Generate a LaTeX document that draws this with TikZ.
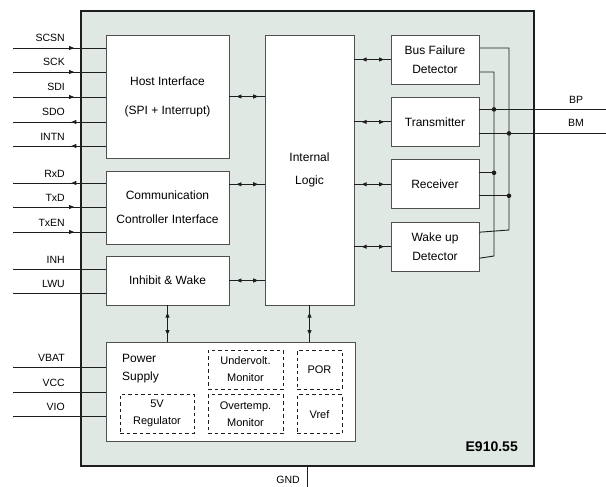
\documentclass[tikz,border=0pt]{standalone}
\usepackage{fontspec}
\setmainfont{Liberation Sans}
\usepackage{xcolor}
\usepackage{tikz}
\usetikzlibrary{positioning,arrows.meta,decorations.markings}
\definecolor{ChipFill}{RGB}{224, 232, 228}
\definecolor{Edge}{RGB}{80, 80, 80}
\definecolor{Ink}{RGB}{30, 30, 30}

\begin{document}
\begin{tikzpicture}[x=1pt, y=-1pt,
    chip/.style={rectangle, draw=Ink, fill=ChipFill, line width=1.3pt,
                 minimum width=453pt, minimum height=455pt},
    block/.style={rectangle, draw=Edge, fill=white, line width=0.9pt, inner sep=0pt,
                  align=center, font=\fontsize{12}{19}\selectfont},
    part/.style={rectangle, draw=Ink, fill=white, line width=0.8pt, dash pattern=on 3.5pt off 3pt,
                 inner sep=0pt, align=center, font=\fontsize{11}{17}\selectfont},
    wire/.style={draw=Ink, line width=0.9pt},
    pinin/.style={wire, postaction={decorate},
                  decoration={markings, mark=at position 0.66 with {\arrow{>}}}},
    pinout/.style={wire, postaction={decorate},
                   decoration={markings, mark=at position 0.63 with {\arrowreversed{>}}}},
    link/.style={wire, postaction={decorate},
                 decoration={markings, mark=at position 0.2 with {\arrowreversed{>}},
                             mark=at position 0.82 with {\arrow{>}}}},
    pinlabel/.style={anchor=base east, font=\fontsize{10.5}{12}\selectfont, inner sep=0pt},
    >={Triangle[length=5pt, width=4pt]},
    node distance=12.5pt,
]
\useasboundingbox (0,0) rectangle (606,487);

% package outline
\node[chip] (chip) at (307.5,238.5) {};

% function blocks
\node[block, minimum width=123pt, minimum height=123pt] (host) at (167.5,96.5) {Host Interface\\[10pt](SPI + Interrupt)};
\node[block, minimum width=123pt, minimum height=73pt] (ccif) at (167.5,207.5) {Communication\\[5pt]Controller Interface};
\node[block, minimum width=123pt, minimum height=49pt] (inhw) at (167.5,280.5) {Inhibit \& Wake};
\node[block, minimum width=89pt, minimum height=270pt] (logic) at (309.5,170) {Internal\\[4pt]Logic};

\node[block, minimum width=88pt, minimum height=49pt] (bfd) at (435,59.5) {Bus Failure\\Detector};
\node[block, minimum width=88pt, minimum height=49pt, below=of bfd] (tx) {Transmitter};
\node[block, minimum width=88pt, minimum height=49pt, below=of tx] (rx) {Receiver};
\node[block, minimum width=88pt, minimum height=49pt, below=of rx] (wud) {Wake up\\Detector};

% power supply
\node[block, minimum width=249pt, minimum height=99pt] (power) at (230.5,391.5) {};
\node[anchor=west, align=left, inner sep=0pt, font=\fontsize{12}{18}\selectfont] (pslabel) at (122,369) {Power\\Supply};
\node[part, minimum width=74pt, minimum height=39pt] (reg) at (157,413.5) {5V\\Regulator};
\node[part, minimum width=75pt, minimum height=39pt] (uvm) at (245.5,369.5) {Undervolt.\\Monitor};
\node[part, minimum width=75pt, minimum height=39pt, below=5pt of uvm] (otm) {Overtemp.\\Monitor};
\node[part, minimum width=45pt, minimum height=39pt] (por) at (319.5,369.5) {POR};
\node[part, minimum width=45pt, minimum height=39pt, below=5pt of por] (vref) {Vref};

\node[anchor=base east, inner sep=0pt, font=\fontsize{14}{16}\selectfont\bfseries] (chipid) at (518,451) {E910.55};

% internal links
\draw[link] (host) -- (host.east -| logic.west);
\draw[link] (ccif.east |- rx) -- (logic.west |- rx);
\draw[link] (inhw) -- (inhw.east -| logic.west);
\foreach \blk in {bfd, tx, rx, wud}
    \draw[link] (logic.east |- \blk) -- (\blk);
\draw[link] (inhw) -- (inhw.south |- power.north);
\draw[link] (logic) -- (logic.south |- power.north);

% left pins
\foreach \name/\yy/\kind/\blk in {SCSN/48/pinin/host, SCK/72/pinin/host, SDI/97/pinin/host,
        SDO/122/pinout/host, INTN/146/pinout/host, RxD/183/pinout/ccif, TxD/207/pinin/ccif,
        TxEN/232/pinin/ccif, INH/269/wire/inhw, LWU/293/wire/inhw,
        VBAT/367/wire/power, VCC/392/wire/power, VIO/416/wire/power} {
    \coordinate (p\name) at (13,\yy);
    \node[pinlabel] (l\name) at (65,\yy-6) {\name};
    \draw[\kind] (p\name) -- (\blk.west |- p\name);
}

% bus side
\coordinate (busp) at (494,0);
\coordinate (busm) at (509,0);
\coordinate (edge) at (606,0);
\draw[wire] ([yshift=11.5pt]bfd.east) -| (busm |- 0,230) -- ([yshift=14.5pt]wud.east);
\draw[wire] ([yshift=-12.5pt]bfd.east) -| (busp |- 0,256) -- ([yshift=-11.5pt]wud.east);
\draw[wire] ([yshift=12.5pt]tx.east) coordinate (tp) -- (tp -| edge);
\draw[wire] ([yshift=-11.5pt]tx.east) coordinate (tm) -- (tm -| edge);
\draw[wire] ([yshift=11.5pt]rx.east) coordinate (rp) -- (rp -| busp);
\draw[wire] ([yshift=-11.5pt]rx.east) coordinate (rm) -- (rm -| busm);
\foreach \pt/\bus in {tp/busp, tm/busm, rp/busp, rm/busm}
    \fill[Ink] (\pt -| \bus) circle (2.3pt);
\node[pinlabel, anchor=base] (lbp) at (576,103) {BP};
\node[pinlabel, anchor=base] (lbm) at (576,127) {BM};

% ground
\coordinate (gnd) at (307,487);
\draw[wire] (chip.south -| gnd) -- (gnd);
\node[pinlabel] (lgnd) at (300,483) {GND};
\end{tikzpicture}
\end{document}
